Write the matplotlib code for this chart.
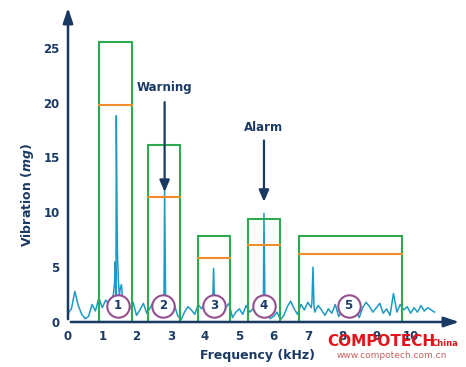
import numpy as np
import matplotlib
matplotlib.use("Agg")
import matplotlib.pyplot as plt
from matplotlib.patches import Rectangle

navy = "#1b3a63"
cyan = "#1f9ac4"
green = "#2eaa4f"
orange = "#f08c2a"
purple = "#94508f"

# background noise of the spectrum, every 0.1 kHz
noise_f = np.round(np.arange(0, 10.8, 0.1), 2)
noise_a = [0.8, 1.2, 2.8, 1.5, 0.7, 0.3, 0.5, 1.6, 1.0, 2.2,
           1.3, 2.0, 1.6, 2.2, 1.9, 2.4, 1.7, 0.9, 1.2, 1.8,
           0.6, 1.1, 1.7, 0.8, 1.3, 1.9, 1.2, 0.5, 1.5, 0.9,
           1.2, 1.6, 0.6, 0.2, 0.9, 1.4, 1.1, 0.7, 1.6, 1.2,
           1.8, 0.6, 1.3, 1.9, 1.5, 0.8, 1.3, 1.7, 0.4, 0.9,
           1.2, 0.7, 1.5, 0.9, 1.2, 0.8, 0.6, 0.5, 0.8, 0.3,
           0.5, 0.9, 0.2, 0.6, 1.4, 1.9, 1.2, 0.7, 1.6, 1.1,
           1.8, 1.3, 0.9, 1.5, 1.1, 0.6, 1.2, 0.8, 1.6, 0.5,
           1.0, 1.3, 0.7, 1.5, 1.1, 0.4, 1.3, 1.8, 1.4, 0.9,
           1.3, 1.7, 0.8, 1.2, 0.6, 2.6, 0.9, 1.6, 1.1, 1.4,
           0.8, 1.3, 0.9, 1.5, 1.0, 1.3, 1.1, 0.9]

# narrow peaks on top of the noise
peak_f = [1.33, 1.36, 1.38, 1.41, 1.44, 1.47, 1.52, 1.56,
          2.79, 2.82, 2.85, 4.22, 4.25, 4.28,
          5.69, 5.72, 5.75, 7.12, 7.15, 7.18]
peak_a = [2.6, 3.6, 5.5, 18.8, 6.5, 3.8, 3.0, 3.4,
          1.6, 12.5, 1.4, 1.5, 4.9, 1.2,
          1.3, 9.9, 1.2, 1.8, 5.0, 1.5]

# band limits (kHz), alarm level (box top) and warning level (orange line)
band_lo = [0.9, 2.33, 3.79, 5.25, 6.73]
band_hi = [1.87, 3.27, 4.72, 6.18, 9.74]
alarm = [25.5, 16.1, 7.8, 9.4, 7.8]
warning = [19.8, 11.4, 5.8, 7.0, 6.2]
band_no = ["1", "2", "3", "4", "5"]
label_f = [1.45, 2.78, 4.26, 5.72, 8.19]

xticks = [0, 1, 2, 3, 4, 5, 6, 7, 8, 9, 10]
yticks = [0, 5, 10, 15, 20, 25]

f = np.concatenate([noise_f, peak_f])
a = np.concatenate([noise_a, peak_a])
order = np.argsort(f, kind="stable")
f, a = f[order], a[order]

fig = plt.figure(figsize=(4.66, 3.67), dpi=100)
ax = fig.add_axes([68 / 466, 45 / 367, 394 / 466, 317 / 367])
ax.set_xlim(0, 11.5)
ax.set_ylim(0, 28.9)

ax.plot(f, a, color=cyan, lw=1.1, zorder=2)

for lo, hi, top, w in zip(band_lo, band_hi, alarm, warning):
    ax.add_patch(Rectangle((lo, 0), hi - lo, top, fill=False,
                           edgecolor=green, lw=1.5, zorder=3))
    ax.plot([lo, hi], [w, w], color=orange, lw=1.5, zorder=3)

ax.scatter(label_f, [1.46] * 5, s=260, facecolor="white",
           edgecolor=purple, lw=1.5, zorder=4)
for x, t in zip(label_f, band_no):
    ax.text(x, 1.46, t, ha="center", va="center", fontsize=8.5,
            fontweight="bold", color=navy, zorder=5)

# warning / alarm call-outs
ax.annotate("", xy=(2.82, 11.6), xytext=(2.82, 20.3),
            arrowprops=dict(arrowstyle="-|>,head_width=0.3,head_length=0.7",
                            color=navy, lw=1.6))
ax.text(2.82, 21.4, "Warning", ha="center", va="center", fontsize=8.5,
        fontweight="bold", color=navy)
ax.annotate("", xy=(5.72, 10.7), xytext=(5.72, 16.8),
            arrowprops=dict(arrowstyle="-|>,head_width=0.3,head_length=0.7",
                            color=navy, lw=1.6))
ax.text(5.72, 17.7, "Alarm", ha="center", va="center", fontsize=8.5,
        fontweight="bold", color=navy)

# axes with arrow heads
for s in ax.spines.values():
    s.set_visible(False)
ax.annotate("", xy=(1, 0), xytext=(0, 0), xycoords="axes fraction",
            arrowprops=dict(arrowstyle="-|>,head_width=0.3,head_length=0.9",
                            color=navy, lw=1.8), annotation_clip=False)
ax.annotate("", xy=(0, 1), xytext=(0, 0), xycoords="axes fraction",
            arrowprops=dict(arrowstyle="-|>,head_width=0.3,head_length=0.9",
                            color=navy, lw=1.8), annotation_clip=False)

ax.set_xticks(xticks)
ax.set_yticks(yticks)
ax.tick_params(length=0, labelsize=8.5, labelcolor=navy, pad=6)
for lab in ax.get_xticklabels() + ax.get_yticklabels():
    lab.set_fontweight("bold")

fig.text(258 / 466, 1 - 355 / 367, "Frequency (kHz)", ha="center",
         va="center", fontsize=9, fontweight="bold", color=navy)
fig.text(28 / 466, 1 - 195 / 367, r"Vibration ($\mathbfit{mg}$)",
         rotation=90, ha="center", va="center", fontsize=9,
         fontweight="bold", color=navy)

# watermark
fig.text(327 / 466, 1 - 342 / 367, "COMPOTECH", ha="left", va="center",
         fontsize=11, fontweight="bold", color="#e3141c", zorder=6)
fig.text(432 / 466, 1 - 343 / 367, "China", ha="left", va="center",
         fontsize=6, fontweight="bold", color="#e3141c", zorder=6)
fig.text(392 / 466, 1 - 356 / 367, "www.compotech.com.cn", ha="center",
         va="center", fontsize=6.5, color="#c86060", zorder=6)

fig.savefig("out.png", dpi=100)
